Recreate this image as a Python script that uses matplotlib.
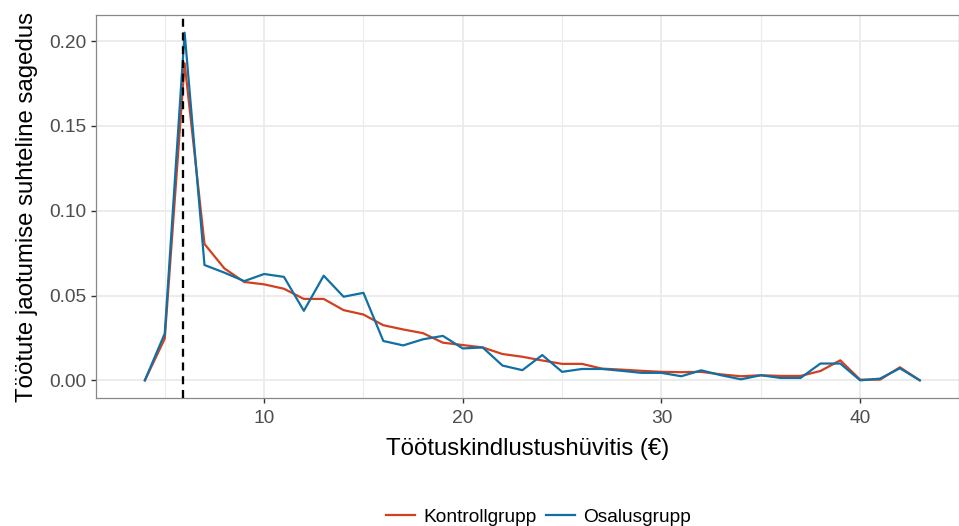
""" plot.py

relative frequency of unemployment insurance benefit by group,
control group vs participants, with a dashed line at the peak
"""

import matplotlib
matplotlib.use('Agg')
import matplotlib.pyplot as plt

plt.rcParams['font.family'] = ['Liberation Sans', 'DejaVu Sans']

# benefit amount (euros)
benefit = list(range(4, 44))

kontroll = [0.0, 0.0246, 0.187, 0.0804, 0.066, 0.058, 0.0566, 0.054, 0.048, 0.048,
            0.0414, 0.0388, 0.0325, 0.030, 0.0278, 0.0222, 0.0208, 0.0194, 0.0155, 0.0139,
            0.0117, 0.0097, 0.0097, 0.0069, 0.0063, 0.0056, 0.005, 0.0048, 0.005, 0.0035,
            0.0024, 0.003, 0.0026, 0.0026, 0.0055, 0.0118, 0.0004, 0.0004, 0.0077, 0.0]

osalus = [0.0, 0.0276, 0.205, 0.068, 0.0635, 0.0585, 0.0627, 0.061, 0.041, 0.0617,
          0.0493, 0.0516, 0.0232, 0.0206, 0.0242, 0.0262, 0.0188, 0.0194, 0.0087, 0.006,
          0.0149, 0.005, 0.0067, 0.0067, 0.0056, 0.0044, 0.0044, 0.0024, 0.0059, 0.003,
          0.0006, 0.003, 0.0014, 0.0014, 0.0099, 0.0099, 0.0, 0.001, 0.0071, 0.0]

peak_x = 5.93

x_ticks = [10, 20, 30, 40]
x_minor = [5, 15, 25, 35]
y_ticks = [0.0, 0.05, 0.10, 0.15, 0.20]

RED = '#D1401F'
BLUE = '#1170A3'
GRID = '#EBEBEB'

fig = plt.figure(figsize=(9.59, 5.26), dpi=100)
ax = fig.add_axes([0.0998, 0.2439, 0.9002, 0.7270])

# ggplot-ish grid, minor only on x
for xm in x_minor:
    ax.axvline(xm, color=GRID, lw=0.8, zorder=0)
for xt in x_ticks:
    ax.axvline(xt, color=GRID, lw=1.3, zorder=0)
for yt in y_ticks:
    ax.axhline(yt, color=GRID, lw=1.3, zorder=0)

ax.plot(benefit, kontroll, color=RED, lw=1.6, label='Kontrollgrupp', zorder=3)
ax.plot(benefit, osalus, color=BLUE, lw=1.6, label='Osalusgrupp', zorder=4)
ax.axvline(peak_x, color='black', lw=1.65, dashes=(3.5, 2.5), zorder=5)

ax.set_xlim(1.525, 44.975)
ax.set_ylim(-0.01025, 0.21525)
ax.set_xticks(x_ticks)
ax.set_xticklabels([str(t) for t in x_ticks])
ax.set_yticks(y_ticks)
ax.set_yticklabels([f'{t:.2f}' for t in y_ticks])

ax.tick_params(axis='both', length=3.6, width=1.0, color='#333333',
               labelsize=13.8, labelcolor='#4D4D4D')
ax.tick_params(axis='x', pad=5.5)
ax.tick_params(axis='y', pad=3)
for sp in ax.spines.values():
    sp.set_color('#888888')
    sp.set_linewidth(0.9)

ax.set_xlabel('Töötuskindlustushüvitis (€)', fontsize=17.3, labelpad=7.5)
ax.set_ylabel('Töötute jaotumise suhteline sagedus', fontsize=17.3, labelpad=8)

fig.legend(loc='center', bbox_to_anchor=(0.5615, 1 - 517 / 526), ncol=2,
           frameon=False, fontsize=13.8, handlelength=1.55, handletextpad=0.42,
           columnspacing=0.45)

fig.savefig('out.png', dpi=100)
